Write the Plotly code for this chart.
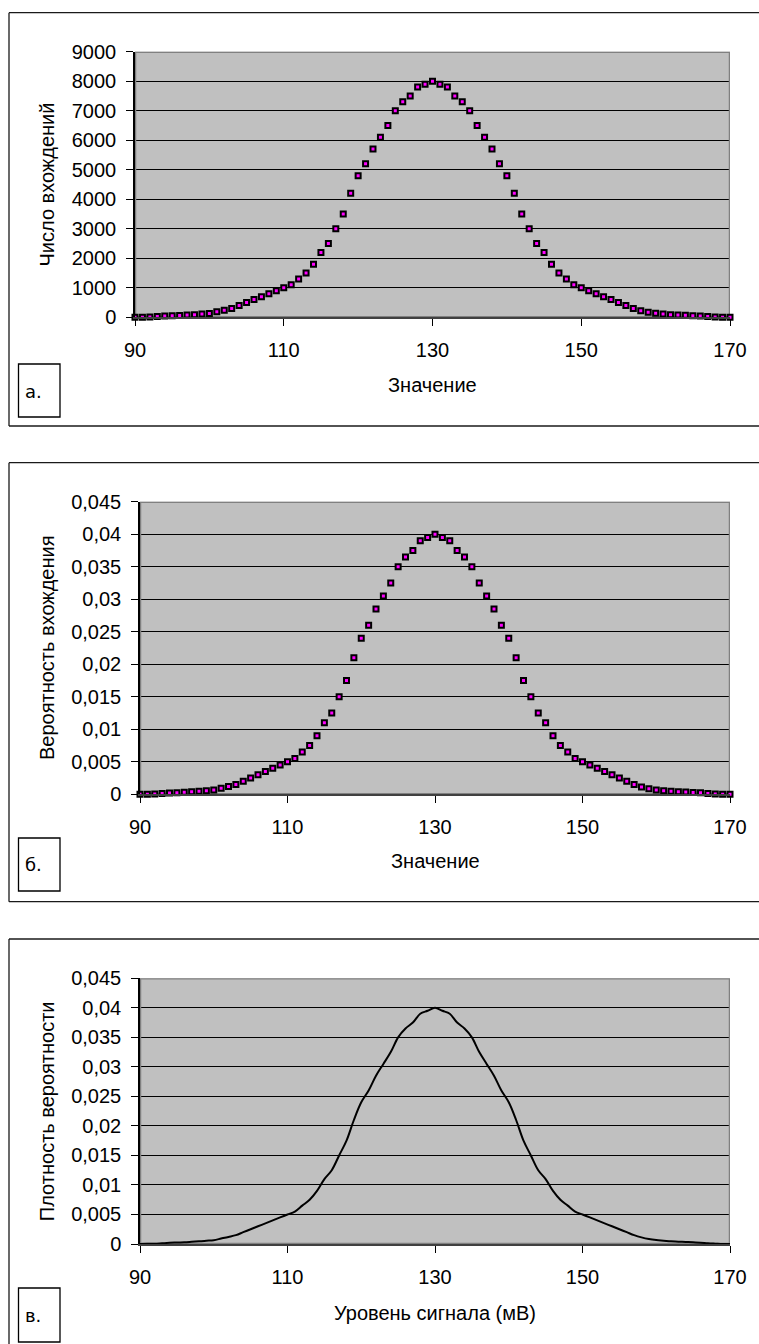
import plotly.graph_objects as go

# ---- data -------------------------------------------------------------
values = list(range(90, 171))  # измеренное значение, 90 … 170

counts = [
    0, 5, 10, 25, 40, 50, 60, 75, 90, 110,
    130, 185, 240, 300, 400, 500, 600, 700, 800, 900,
    1000, 1100, 1300, 1500, 1800, 2200, 2500, 3000, 3500, 4200,
    4800, 5200, 5700, 6100, 6500, 7000, 7300, 7500, 7800, 7900,
    8000,
    7900, 7800, 7500, 7300, 7000, 6500, 6100, 5700, 5200, 4800,
    4200, 3500, 3000, 2500, 2200, 1800, 1500, 1300, 1100, 1000,
    900, 800, 700, 600, 500, 400, 300, 225, 170, 135,
    113, 90, 80, 68, 56, 45, 23, 11, 0, 0,
]

probability = [
    0, 0.000025, 0.00005, 0.000125, 0.0002, 0.00025, 0.0003, 0.000375, 0.00045, 0.00055,
    0.00065, 0.000925, 0.0012, 0.0015, 0.002, 0.0025, 0.003, 0.0035, 0.004, 0.0045,
    0.005, 0.0055, 0.0065, 0.0075, 0.009, 0.011, 0.0125, 0.015, 0.0175, 0.021,
    0.024, 0.026, 0.0285, 0.0305, 0.0325, 0.035, 0.0365, 0.0375, 0.039, 0.0395,
    0.04,
    0.0395, 0.039, 0.0375, 0.0365, 0.035, 0.0325, 0.0305, 0.0285, 0.026, 0.024,
    0.021, 0.0175, 0.015, 0.0125, 0.011, 0.009, 0.0075, 0.0065, 0.0055, 0.005,
    0.0045, 0.004, 0.0035, 0.003, 0.0025, 0.002, 0.0015, 0.001125, 0.00085, 0.000675,
    0.000565, 0.00045, 0.0004, 0.00034, 0.00028, 0.000225, 0.000115, 0.000055, 0, 0,
]

x_ticks = [90, 110, 130, 150, 170]

count_ticks = [0, 1000, 2000, 3000, 4000, 5000, 6000, 7000, 8000, 9000]
count_tick_text = ["0", "1000", "2000", "3000", "4000", "5000", "6000", "7000", "8000", "9000"]

prob_ticks = [0, 0.005, 0.01, 0.015, 0.02, 0.025, 0.03, 0.035, 0.04, 0.045]
prob_tick_text = ["0", "0,005", "0,01", "0,015", "0,02", "0,025", "0,03", "0,035", "0,04", "0,045"]

y_titles = ["Число вхождений", "Вероятность вхождения", "Плотность вероятности"]
x_titles = ["Значение", "Значение", "Уровень сигнала (мВ)"]
panel_marks = ["а.", "б.", "в."]

# ---- page geometry (pixels) ------------------------------------------
W, H = 759, 1344


def fx(px):
    return px / W


def fy(py):
    return 1 - py / H


# plot rectangles: left, top, right, bottom
plots = [
    (135, 51.7, 730, 317.3),
    (140, 501.7, 730, 794.3),
    (140, 978.3, 730, 1244.0),
]
# outer frames: left, top, bottom (None = runs off the page);
# each frame continues past the right edge of the page
frames = [
    (9, 12.7, 426),
    (9, 462.7, 901.7),
    (9, 939, None),
]
# small caption boxes: left, top, right, bottom
mark_boxes = [
    (18.5, 364, 60, 417),
    (18.5, 838, 60, 891),
    (18.5, 1288, 60, 1342),
]
mark_text_y = [391, 864, 1315]
x_title_y = [385, 861, 1313]
y_title_x = 47

TICK_FONT = dict(family="Liberation Sans, Arial, sans-serif", size=20, color="black")
FRAME_LINE = dict(color="#1a1a1a", width=1.3)

fig = go.Figure()

# а. counts, б. probabilities (markers); в. density (smoothed line)
fig.add_trace(go.Scatter(
    x=values, y=counts, mode="markers", xaxis="x", yaxis="y",
    marker=dict(symbol="square", size=5, color="#FF00FF",
                line=dict(color="black", width=2)),
    cliponaxis=False, showlegend=False,
))
fig.add_trace(go.Scatter(
    x=values, y=probability, mode="markers", xaxis="x2", yaxis="y2",
    marker=dict(symbol="square", size=5, color="#FF00FF",
                line=dict(color="black", width=2)),
    cliponaxis=False, showlegend=False,
))
fig.add_trace(go.Scatter(
    x=values, y=probability, mode="lines", xaxis="x3", yaxis="y3",
    line=dict(color="black", width=2, shape="spline", smoothing=1.0),
    cliponaxis=False, showlegend=False,
))

layout = dict(
    width=W, height=H,
    margin=dict(l=0, r=0, t=0, b=0, autoexpand=False),
    paper_bgcolor="white",
    plot_bgcolor="#C0C0C0",
    separators=", ",
    showlegend=False,
)

y_specs = [
    (count_ticks, count_tick_text, [0, 9000]),
    (prob_ticks, prob_tick_text, [0, 0.045]),
    (prob_ticks, prob_tick_text, [0, 0.045]),
]

shapes = []
annotations = []


def paper_line(x0, y0, x1, y1, line):
    return dict(type="line", xref="paper", yref="paper",
                x0=fx(x0), y0=fy(y0), x1=fx(x1), y1=fy(y1), line=line)


for i, (l, t, r, b) in enumerate(plots):
    sx = "" if i == 0 else str(i + 1)
    tv, tt, yr = y_specs[i]
    layout["xaxis" + sx] = dict(
        domain=[fx(l), fx(r)], anchor="y" + sx, range=[90, 170],
        automargin=False,
        tickmode="array", tickvals=x_ticks,
        ticks="outside", ticklen=7, tickwidth=1, tickcolor="black",
        ticklabelstandoff=7,
        showgrid=False, zeroline=False,
        showline=True, linecolor="#404040", linewidth=1.5,
        tickfont=TICK_FONT, fixedrange=True,
    )
    layout["yaxis" + sx] = dict(
        domain=[fy(b), fy(t)], anchor="x" + sx, range=yr,
        automargin=False,
        tickmode="array", tickvals=tv, ticktext=tt,
        ticks="outside", ticklen=7, tickwidth=1, tickcolor="black",
        ticklabelstandoff=6,
        showgrid=True, gridcolor="black", gridwidth=1,
        zeroline=False,
        showline=True, linecolor="black", linewidth=1.5,
        tickfont=TICK_FONT, fixedrange=True,
    )
    # grey plot-area border, drawn over the grid but under the data
    shapes.append(dict(
        type="rect", xref="x" + sx, yref="y" + sx,
        x0=90, x1=170, y0=yr[0], y1=yr[1], layer="between",
        line=dict(color="#808080", width=2.5),
    ))
    # outer panel frame (left, top and, if on the page, bottom side)
    fl, ft, fb = frames[i]
    shapes.append(paper_line(fl, ft, W, ft, FRAME_LINE))
    shapes.append(paper_line(fl, ft, fl, H if fb is None else fb, FRAME_LINE))
    if fb is not None:
        shapes.append(paper_line(fl, fb, W, fb, FRAME_LINE))
    # caption box
    ml, mt, mr, mb = mark_boxes[i]
    shapes.append(dict(
        type="rect", xref="paper", yref="paper",
        x0=fx(ml), x1=fx(mr), y0=fy(mb), y1=fy(mt),
        line=dict(color="black", width=1.3),
    ))
    annotations.append(dict(
        text=panel_marks[i], xref="paper", yref="paper",
        x=fx(23), y=fy(mark_text_y[i]), xanchor="left", yanchor="middle",
        showarrow=False,
        font=dict(family="DejaVu Sans, Verdana, sans-serif", size=18, color="black"),
    ))
    # axis titles
    annotations.append(dict(
        text=x_titles[i], xref="paper", yref="paper",
        x=fx((l + r) / 2), y=fy(x_title_y[i]), xanchor="center", yanchor="middle",
        showarrow=False, font=TICK_FONT,
    ))
    annotations.append(dict(
        text=y_titles[i], xref="paper", yref="paper", textangle=-90,
        x=fx(y_title_x), y=fy((t + b) / 2), xanchor="center", yanchor="middle",
        showarrow=False, font=TICK_FONT,
    ))

layout["shapes"] = shapes
layout["annotations"] = annotations
fig.update_layout(**layout)

fig.write_html("out.html")
